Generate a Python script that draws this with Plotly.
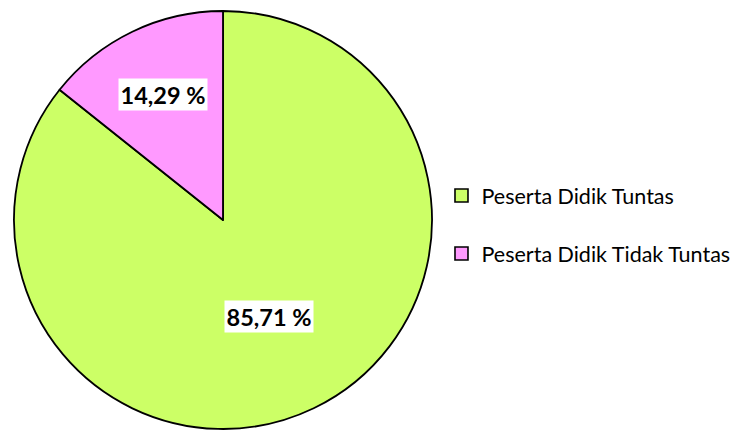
import math
import plotly.graph_objects as go

labels = ["Peserta Didik Tuntas", "Peserta Didik Tidak Tuntas"]
values = [85.71, 14.29]
colors = ["#CCFF66", "#FF99FF"]
label_text = ["85,71 %", "14,29 %"]
label_radius = [0.51, 0.665]

# page body has 8px margin, so figure is drawn 8px in from the window corner
W, H = 732, 424
top, bottom = 3, 3
plot_h = H - top - bottom
diam = plot_h
cx_px = 215
cy_px = top + diam / 2
R = diam / 2

fig = go.Figure()
fig.add_trace(go.Pie(
    labels=labels, values=values, sort=False, direction="clockwise", rotation=0,
    marker=dict(colors=colors, line=dict(color="black", width=1.8)),
    textinfo="none", hoverinfo="label+percent", showlegend=False,
    domain=dict(x=[(cx_px - R) / W, (cx_px + R) / W], y=[0, 1]),
))

# legend via dummy traces
for i, (lab, col) in enumerate(zip(labels, colors)):
    fig.add_trace(go.Scatter(
        x=[None], y=[None], mode="markers", name=lab, legendgroup=f"g{i}",
        marker=dict(symbol="square", size=13, color=col, line=dict(color="black", width=1.6)),
    ))

# slice labels positioned from data
total = sum(values)
start = 90.0
for v, txt, rf in zip(values, label_text, label_radius):
    span = v / total * 360
    mid = math.radians(start - span / 2)
    start -= span
    x_px = cx_px + rf * R * math.cos(mid)
    y_px = cy_px - rf * R * math.sin(mid)
    fig.add_annotation(
        x=x_px / W, y=1 - (y_px - top) / plot_h, xref="paper", yref="paper",
        xanchor="center", yanchor="middle",
        text=f"<b>{txt}</b>", showarrow=False, bgcolor="white",
        font=dict(family="Lato", size=23.5, color="black"), borderpad=1.5,
    )

fig.update_layout(
    width=W, height=H,
    margin=dict(l=0, r=0, t=top, b=bottom),
    paper_bgcolor="white", plot_bgcolor="white",
    xaxis=dict(visible=False), yaxis=dict(visible=False),
    showlegend=True,
    legend=dict(x=0.5922, y=1 - (216.5 - top) / plot_h, xanchor="left", yanchor="middle",
                traceorder="grouped", tracegroupgap=27,
                font=dict(family="Lato", size=21.5, color="black"),
                bgcolor="rgba(0,0,0,0)"),
)
fig.write_html("out.html")
